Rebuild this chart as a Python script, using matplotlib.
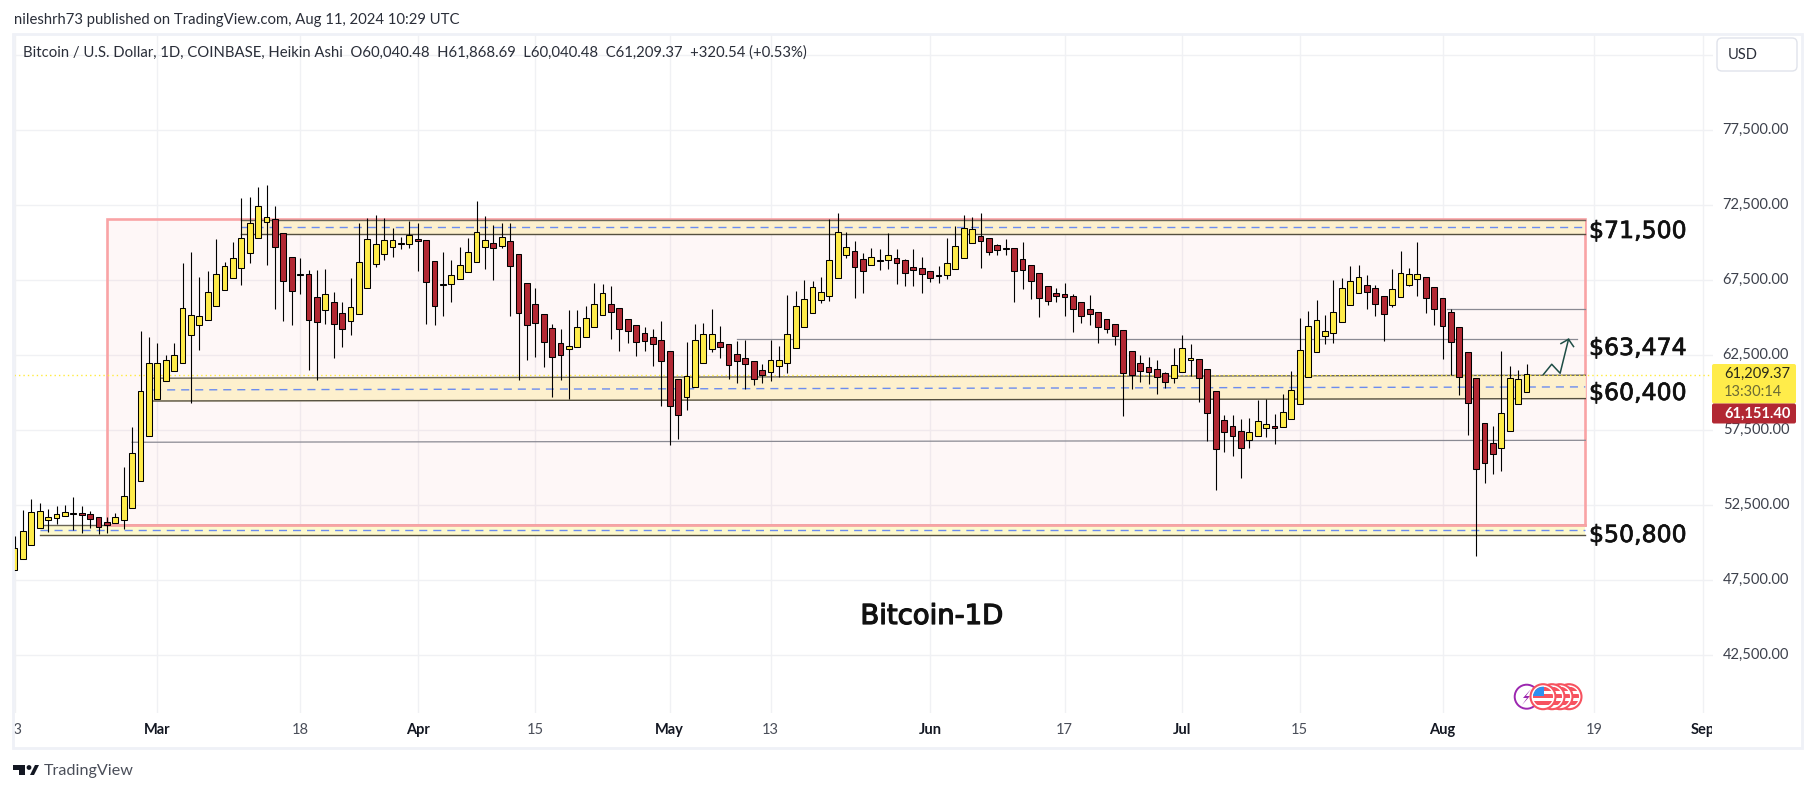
import numpy as np
import matplotlib
matplotlib.use("Agg")
import matplotlib.pyplot as plt
import matplotlib.patheffects as pe
from matplotlib.patches import Circle, Rectangle, FancyBboxPatch, Polygon
from matplotlib.transforms import Bbox

plt.rcParams['font.family'] = ['Lato', 'DejaVu Sans']

# days counted from Mar 1 2024, one candle per day (Feb 13 .. Aug 11)
days = np.arange(-17, 164)
highs = [
    50450,52190,52920,52650,52250,52450,52520,53050,52450,52120,
    51700,51720,51990,55030,57720,64100,63700,63300,62500,63300,
    68630,69360,67700,68100,70230,68700,70030,72960,73030,73700,
    73830,72430,70630,69030,68960,68160,68160,68230,66700,66030,
    67630,71300,71630,71830,71630,70960,70360,71430,71300,70160,
    68760,69360,68830,69700,70300,72760,71760,71160,71300,71300,
    69230,67300,66960,65230,64560,64230,65500,65500,65760,67300,
    67230,67100,65630,64900,64500,64360,64230,64760,62760,60900,
    63360,64560,64630,65560,64430,63230,63430,63500,62100,61900,
    63500,63100,66500,66760,67500,67430,67700,71560,71960,70700,
    70100,69300,69630,69560,70630,69560,68900,69560,69030,68100,
    68430,70300,71100,71830,71700,71960,70300,69900,70230,69630,
    70030,68500,67960,67100,66960,67300,66560,66030,66500,65360,
    64900,64560,64160,62760,62500,62360,62160,61360,62960,63830,
    63230,62230,61560,60100,58500,58500,58230,58300,59520,59560,
    58560,59900,61430,64960,65430,66160,65160,67500,67630,68430,
    68500,67830,67160,66430,68230,69430,68300,70030,67700,67030,
    66300,65560,64360,62700,60960,57960,57760,62760,61760,61500,61900]
body_tops = [
    49630,50760,52030,52100,51700,51900,52030,51960,51960,51900,
    51700,51360,51700,53100,55960,60100,61960,61960,62160,62500,
    65630,65160,65100,66700,67900,68430,68960,70300,71300,72430,
    71700,71560,70630,69030,67900,67900,66360,66560,66030,65300,
    65700,68700,70230,69900,70160,70160,69960,70500,70230,70160,
    68760,67230,67830,68500,69360,70700,70160,69960,70360,70100,
    69230,67300,65900,65230,64300,63300,63100,64360,64960,65900,
    66630,65900,65630,64900,64500,63960,63700,63500,62760,60900,
    61100,63500,63900,63900,63360,63230,62560,62300,62100,61500,
    62160,62160,63900,65760,66230,67030,66700,68830,70700,69700,
    69430,68900,69030,68830,69160,68960,68830,68360,68300,68100,
    67830,68630,69760,70960,70900,70430,70300,69830,69630,69630,
    68900,68500,67960,67100,66630,66560,66430,66030,65560,65360,
    64900,64560,64160,62760,61960,61700,61560,61300,61830,62960,
    62300,62230,61560,60100,58160,57760,57430,57360,58100,57900,
    57760,58700,60160,62830,64430,64830,64100,65360,66960,67430,
    67700,67160,66960,66430,66900,67960,67900,67900,67700,67030,
    66300,65360,64360,62700,60960,57960,56630,58630,60960,60900,61230]
body_bottoms = [
    48160,48900,49830,50960,51500,51630,51760,51900,51830,51560,
    51030,51160,51300,51500,52300,54100,57100,59560,60760,61430,
    61960,63830,64500,64830,65760,66830,67630,68300,69300,70300,
    71360,69700,67430,66760,67880,64830,64700,65500,64560,64230,
    64760,65230,66960,68560,69230,69700,69900,69900,70100,67360,
    65760,67210,67230,67560,68030,68700,69700,69630,69760,68430,
    65300,64500,64630,63360,62360,62500,62900,63030,63700,64360,
    65160,65360,64230,64100,63360,63430,63230,62100,59100,58500,
    59700,60360,61960,62900,63030,61830,62100,61900,60900,61160,
    61360,61760,61960,62960,64360,65300,66160,66430,67630,69160,
    68360,68100,68500,68760,68830,68630,67960,68160,67900,67630,
    67810,67830,68230,68960,69960,70100,69360,69500,69610,68100,
    68160,67430,66300,66100,66430,66360,65560,65100,65230,64360,
    64230,63760,61300,61160,61430,61360,61030,60700,60960,61360,
    62160,60960,58630,56230,57360,57100,56300,56830,57100,57630,
    57630,57700,58230,59230,61030,62700,63760,63960,64700,65830,
    66630,66700,65900,65230,65830,66360,67160,67560,66300,65560,
    64430,63360,61030,59300,54900,55300,55900,56300,57430,59230,60030]
lows = [
    48160,48900,49830,50960,50740,51280,51760,50830,50680,51010,
    50610,50680,51300,50940,52300,54100,57100,59560,60760,61430,
    61960,59300,62880,64830,65760,66830,67630,67210,68680,70300,
    68540,65610,64810,64540,66610,61540,60830,64610,62340,63080,
    63880,65230,66960,68410,68880,69080,69610,69680,68140,64610,
    64540,65140,66080,67560,68030,68700,68280,67540,69630,65140,
    60880,62210,62410,61740,59740,60880,59610,63030,63700,64360,
    65160,63610,62810,63340,62480,62810,61810,59140,56540,56940,
    58880,60360,61960,62740,62340,60940,60680,60230,60540,60680,
    60810,61080,61340,62960,64360,65300,65960,66140,67630,68960,
    66340,66680,68500,68160,68280,67280,67140,67140,66680,67410,
    67340,67610,68230,68960,69960,68340,69210,69210,69210,66080,
    66940,66280,65080,65880,66080,65140,64080,64680,64540,63340,
    64010,63210,58480,60280,60740,60610,59940,60340,60680,61360,
    61100,59410,56810,53540,56080,55810,54340,56340,57100,57080,
    56610,57700,58230,59230,61030,62700,63280,63340,64700,65830,
    66630,65560,65140,63480,65740,66360,67100,66480,65340,64540,
    62280,61160,59880,57210,49140,54010,54610,54810,57430,59230,60030]
directions = ("yyyyyyyyrr" "rryyyyyyyy" "yyyyyyyyyy" "yrrryrryrr" "yyyyyyyyrr"
              "ryyyyyyryr" "rrrrrryyyy" "yrrrrrrrrr" "yyyyrrrrrr" "yyyyyyyyyy"
              "rryyyrrrrr" "yyyyyrrryr" "rrrrrrrrrr" "rrrrrrrryy" "yrrrrrryyy"
              "ryyyyyyyyy" "yrrryyyyrr" "rrrrrrryyyy")

price_ticks = [42500, 47500, 52500, 57500, 62500, 67500, 72500, 77500, 82500]
time_ticks = [-17, 0, 17, 31, 45, 61, 73, 92, 108, 122, 136, 153, 171, 184]
time_labels = ['13', 'Mar', '18', 'Apr', '15', 'May', '13', 'Jun', '17', 'Jul', '15', 'Aug', '19', 'Sep']
months = ['Mar', 'Apr', 'May', 'Jun', 'Jul', 'Aug', 'Sep']

last_close = 61209.37

W, H = 1815, 792
fig = plt.figure(figsize=(W/100, H/100), dpi=100, facecolor='white')

# price pane
ax = fig.add_axes([14/W, 1-713/H, (1713-14)/W, (713-35)/H])
ax.set_xlim(-17.06, 185.2)
ax.set_ylim(38650, 83850)
for s in ax.spines.values():
    s.set_visible(False)
ax.yaxis.tick_right()
ax.set_yticks(price_ticks)
# the top gridline has its label hidden behind the currency box
ax.set_yticklabels([f'{p:,.2f}' if p < 80000 else '' for p in price_ticks],
                   color='#3d414c', fontsize=10.5, va='center')
ax.set_xticks(time_ticks)
ax.set_xticklabels(time_labels, fontsize=10.5)
ax.tick_params(axis='both', length=0)
ax.tick_params(axis='y', pad=7)
ax.tick_params(axis='x', pad=7)
ax.grid(True, color='#f0f1f4', lw=1)
ax.set_axisbelow(True)

keep = Bbox.from_extents(14, 0, 1712, H)
for lab in ax.get_xticklabels():
    if lab.get_text() in months:
        lab.set_fontweight('bold')
        lab.set_color('#131722')
    else:
        lab.set_color('#4a4e59')
    lab.set_clip_on(True)
    lab.set_clip_box(keep)

# range box
ax.add_patch(Rectangle((-6, 51190), 176, 71610-51190, facecolor=(0.95, 0.21, 0.27, 0.04),
                       edgecolor='#f9a3a5', lw=1.9, zorder=1))

# zones
zone_x = [[10, 170], [-0.5, 170], [-14, 170]]
zone_top = [[71520, 71520], [60970, 61170], [51210, 51210]]
zone_bot = [[70590, 70590], [59450, 59610], [50540, 50540]]
zone_mid = [[71070, 71070], [60190, 60390], [50850, 50850]]
zone_col = ['#fdf0cd', '#fdf0cd', '#fdf9cd']
for x, t, b, m, c in zip(zone_x, zone_top, zone_bot, zone_mid, zone_col):
    ax.fill_between(x, b, t, color=c, lw=0, zorder=1.5)
    ax.plot(x, t, color='#6a6557', lw=1.0, zorder=1.6)
    ax.plot(x, b, color='#55503f', lw=1.0, zorder=1.6)
    ax.plot(x, m, color='#6b8cef', lw=1.0, ls=(0, (5.8, 4.3)), zorder=1.6)
ax.plot([-6, 170], [51190, 51190], color='#f9a3a5', lw=1.9, zorder=1.7)

# thin levels
ax.plot([153.5, 170], [65590, 65590], color='#8a8a93', lw=0.9, zorder=1.8)
ax.plot([69, 169], [63560, 63560], color='#8a8a93', lw=0.9, zorder=1.8)
ax.plot([-3, 170], [56700, 56830], color='#8a8a93', lw=0.9, zorder=1.8)

# last price
ax.axhline(last_close, color='#ffeb3b', lw=1, ls=(0, (1, 2.2)), zorder=1.9)

# candles
up = np.array([d == 'y' for d in directions])
tops = np.array(body_tops)
bottoms = np.array(body_bottoms)
ax.vlines(days, lows, highs, color='black', lw=0.8, zorder=3)
ax.bar(days[up], (tops-bottoms)[up], bottom=bottoms[up], width=0.7, color='#ffec4a',
       edgecolor='black', lw=0.75, zorder=4)
ax.bar(days[~up], (tops-bottoms)[~up], bottom=bottoms[~up], width=0.7, color='#b22833',
       edgecolor='black', lw=0.75, zorder=4)

# drawn projection arrow
ax.plot([165, 166, 167, 168], [61210, 61900, 61300, 63565], color='#1e4d45', lw=1.1, zorder=5)
ax.plot([167.1, 168, 168.6], [63280, 63565, 63080], color='#1e4d45', lw=1.1, zorder=5)

# overlay in image pixels for the furniture around the chart
ov = fig.add_axes([0, 0, 1, 1], facecolor='none')
ov.set_xlim(0, W)
ov.set_ylim(H, 0)
ov.axis('off')

ov.add_patch(Rectangle((13, 34), 1789, 714, fill=False, edgecolor='#eff1f7', lw=2))

ov.text(14, 20, 'nileshrh73 published on TradingView.com, Aug 11, 2024 10:29 UTC',
        fontsize=10.7, color='#2a2e39', va='center')
ov.text(23, 53, 'Bitcoin / U.S. Dollar, 1D, COINBASE, Heikin Ashi  O60,040.48  H61,868.69  '
        'L60,040.48  C61,209.37  +320.54 (+0.53%)', fontsize=10.7, color='#2a2e39', va='center')

ov.add_patch(FancyBboxPatch((1717, 38), 80, 33, boxstyle='round,pad=0,rounding_size=5',
                            facecolor='white', edgecolor='#e0e3eb', lw=1))
ov.text(1728, 55, 'USD', fontsize=10.5, color='#2a2e39', va='center')

thick = [pe.withStroke(linewidth=0.5, foreground='#111111')]
for txt, y in [('$71,500', 231), ('$63,474', 348), ('$60,400', 393), ('$50,800', 535)]:
    ov.text(1589, y, txt, family='DejaVu Sans', fontsize=17, color='#111111', va='center',
            path_effects=thick)
ov.text(932, 616, 'Bitcoin-1D', family='DejaVu Sans', fontsize=19.8, color='#111111',
        ha='center', va='center', path_effects=[pe.withStroke(linewidth=0.9, foreground='#111111')])

# price badges
ov.add_patch(FancyBboxPatch((1712, 364), 84, 39.5, boxstyle='round,pad=0,rounding_size=2',
                            facecolor='#ffec4a', edgecolor='none'))
ov.add_patch(FancyBboxPatch((1712, 403.5), 84, 20, boxstyle='round,pad=0,rounding_size=2',
                            facecolor='#b22833', edgecolor='none'))
ov.text(1724, 373.5, '61,209.37', fontsize=10.5, color='#2a2a1a', va='center')
ov.text(1724, 392, '13:30:14', fontsize=10.5, color='#6b6a35', va='center')
ov.text(1724, 413.5, '61,151.40', fontsize=10.5, color='white', va='center', fontweight='bold')

# event icons
ov.add_patch(Circle((1526.7, 696.7), 12, facecolor='white', edgecolor='#9c27b0', lw=1.4))
ov.add_patch(Polygon([[1531, 689], [1523, 698], [1527, 698], [1522, 705], [1530, 696], [1526, 696]],
                     closed=True, facecolor='#9c27b0', edgecolor='none'))
for cx in [1569, 1560, 1552, 1543]:
    ov.add_patch(Circle((cx, 696.7), 12.5, facecolor='white', edgecolor='#f7525f', lw=1.5))
    flag = Circle((cx, 696.7), 10, transform=ov.transData)
    for y0 in [687, 694, 701]:
        st = Rectangle((cx-11, y0), 22, 3.5, facecolor='#f7525f', edgecolor='none')
        ov.add_patch(st)
        st.set_clip_path(flag)
    canton = Rectangle((cx-11, 686), 12, 10, facecolor='#2e8ff0', edgecolor='none')
    ov.add_patch(canton)
    canton.set_clip_path(flag)

# footer logo
ov.add_patch(Polygon([[13, 765], [25, 765], [25, 775], [19, 775], [19, 770], [13, 770]],
                     closed=True, facecolor='#131722', edgecolor='none'))
ov.add_patch(Circle((29, 767.5), 2.4, facecolor='#131722', edgecolor='none'))
ov.add_patch(Polygon([[30, 775], [35, 765], [39, 765], [34, 775]],
                     closed=True, facecolor='#131722', edgecolor='none'))
ov.text(44, 771, 'TradingView', fontsize=11.6, color='#4a4e59', va='center')

fig.savefig('out.png', dpi=100)
